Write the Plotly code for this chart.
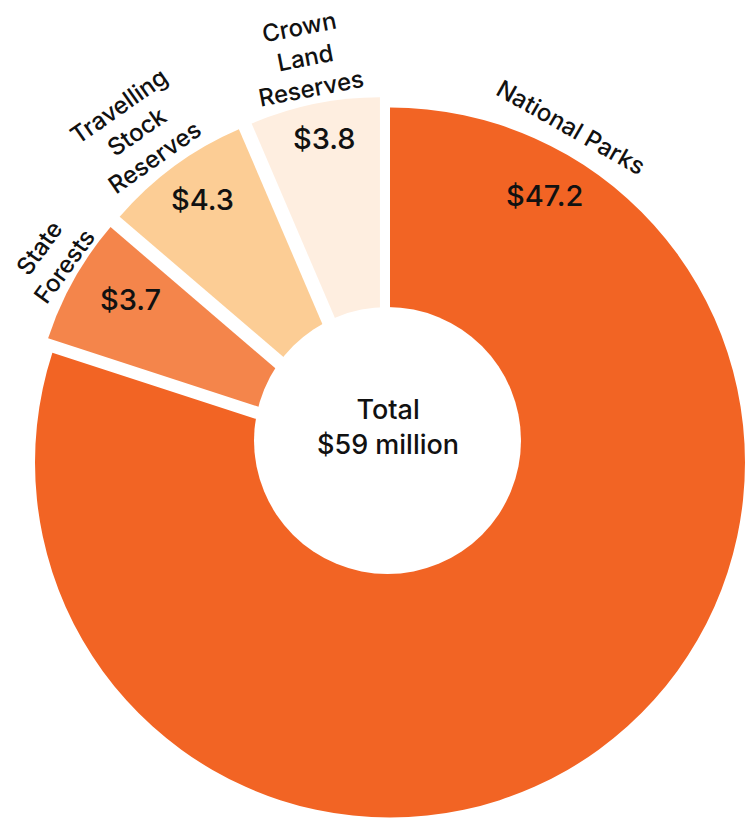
import math
import plotly.graph_objects as go

# Expenditure by land tenure ($ million)
categories = ["National Parks", "State Forests", "Travelling Stock Reserves", "Crown Land Reserves"]
label_lines = ["National Parks", "State<br>Forests", "Travelling<br>Stock<br>Reserves", "Crown<br>Land<br>Reserves"]
values = [47.2, 3.7, 4.3, 3.8]
colors = ["#F26424", "#F4854B", "#FCCD95", "#FEEEE0"]
total_label = "Total<br>$59 million"

W, H = 745, 821
CLEAR = "rgba(0,0,0,0)"
FONT = "Inter"
INK = "#111111"

# pixel boxes for the two pie layers (big slice / small pulled slices)
big_box = (35, 107.5, 745, 817.5)      # x0, y0, x1, y1 in px
small_box = (28, 95, 745, 815)
small_pull = 0.10


def dom(box):
    x0, y0, x1, y1 = box
    return dict(x=[x0 / W, x1 / W], y=[1 - y1 / H, 1 - y0 / H])


def box_geom(box, pull):
    x0, y0, x1, y1 = box
    cx, cy = (x0 + x1) / 2, (y0 + y1) / 2
    r = min(x1 - x0, y1 - y0) / 2 / (1 + pull)
    return cx, cy, r


total = sum(values)
bounds = []
acc = 0
for v in values:
    bounds.append((acc / total * 360, (acc + v) / total * 360))
    acc += v
mids = [(a + b) / 2 for a, b in bounds]

fig = go.Figure()

# large slice layer
fig.add_trace(go.Pie(
    values=values, labels=categories, sort=False, direction="clockwise", rotation=0,
    marker=dict(colors=[colors[0], CLEAR, CLEAR, CLEAR], line=dict(width=0)),
    textinfo="none", hoverinfo="label+value", domain=dom(big_box), showlegend=False,
))

# small slices, pulled outwards
pulls = [0, small_pull, small_pull, small_pull]
fig.add_trace(go.Pie(
    values=values, labels=categories, sort=False, direction="clockwise", rotation=0,
    pull=pulls,
    marker=dict(colors=[CLEAR, colors[1], colors[2], colors[3]], line=dict(width=0)),
    textinfo="none", hoverinfo="label+value", domain=dom(small_box), showlegend=False,
))


def polar(c, r, ang):
    a = math.radians(ang)
    return c[0] + r * math.sin(a), c[1] - r * math.cos(a)


bx, by, br = box_geom(big_box, 0)
sx, sy, sr = box_geom(small_box, small_pull)

# per-slice centre and radius (small slices shifted by their pull)
centers, radii = [], []
for i, m in enumerate(mids):
    if i == 0:
        centers.append((bx, by))
        radii.append(br)
    else:
        centers.append(polar((sx, sy), small_pull * sr, m))
        radii.append(sr)

# label placement: angle from each slice centre, radius, rotation
value_ang = [30.1, mids[1] + 2.3, mids[2] + 0.6, mids[3] + 0.6]
value_r = [0.868, 0.819, 0.868, 0.888]
name_ang = [28.4, mids[1] + 1.4, mids[2] - 1.5, mids[3]]
name_off = [26, 30, 50, 47]
name_rot = [29.5, -54, -35, -11]

annotations = []
for i, v in enumerate(values):
    x, y = polar(centers[i], radii[i] * value_r[i], value_ang[i])
    annotations.append(dict(
        x=x / W, y=1 - y / H, xref="paper", yref="paper", showarrow=False,
        text=f"${v:.1f}", font=dict(family=FONT, size=29, color=INK, weight=500),
        xanchor="center", yanchor="middle",
    ))
    lx, ly = polar(centers[i], radii[i] + name_off[i], name_ang[i])
    annotations.append(dict(
        x=lx / W, y=1 - ly / H, xref="paper", yref="paper", showarrow=False,
        text=label_lines[i], textangle=name_rot[i],
        font=dict(family=FONT, size=24, color=INK, weight=500),
        xanchor="center", yanchor="middle", align="center",
    ))

# centre hole and total
hole_c = (387.5, 440.5)
hole_r = 133.5
annotations.append(dict(
    x=hole_c[0] / W, y=1 - (hole_c[1] - 13) / H, xref="paper", yref="paper", showarrow=False,
    text=total_label, font=dict(family=FONT, size=27, color=INK, weight=500),
    xanchor="center", yanchor="middle", align="center",
))

fig.update_layout(
    width=W, height=H,
    margin=dict(l=0, r=0, t=0, b=0),
    paper_bgcolor="white", plot_bgcolor="white",
    shapes=[dict(
        type="circle", layer="above", xref="paper", yref="paper",
        xsizemode="pixel", ysizemode="pixel",
        xanchor=hole_c[0] / W, yanchor=1 - hole_c[1] / H,
        x0=-hole_r, x1=hole_r, y0=-hole_r, y1=hole_r,
        fillcolor="white", line=dict(width=0),
    )],
    annotations=annotations,
)

fig.write_html("out.html")
